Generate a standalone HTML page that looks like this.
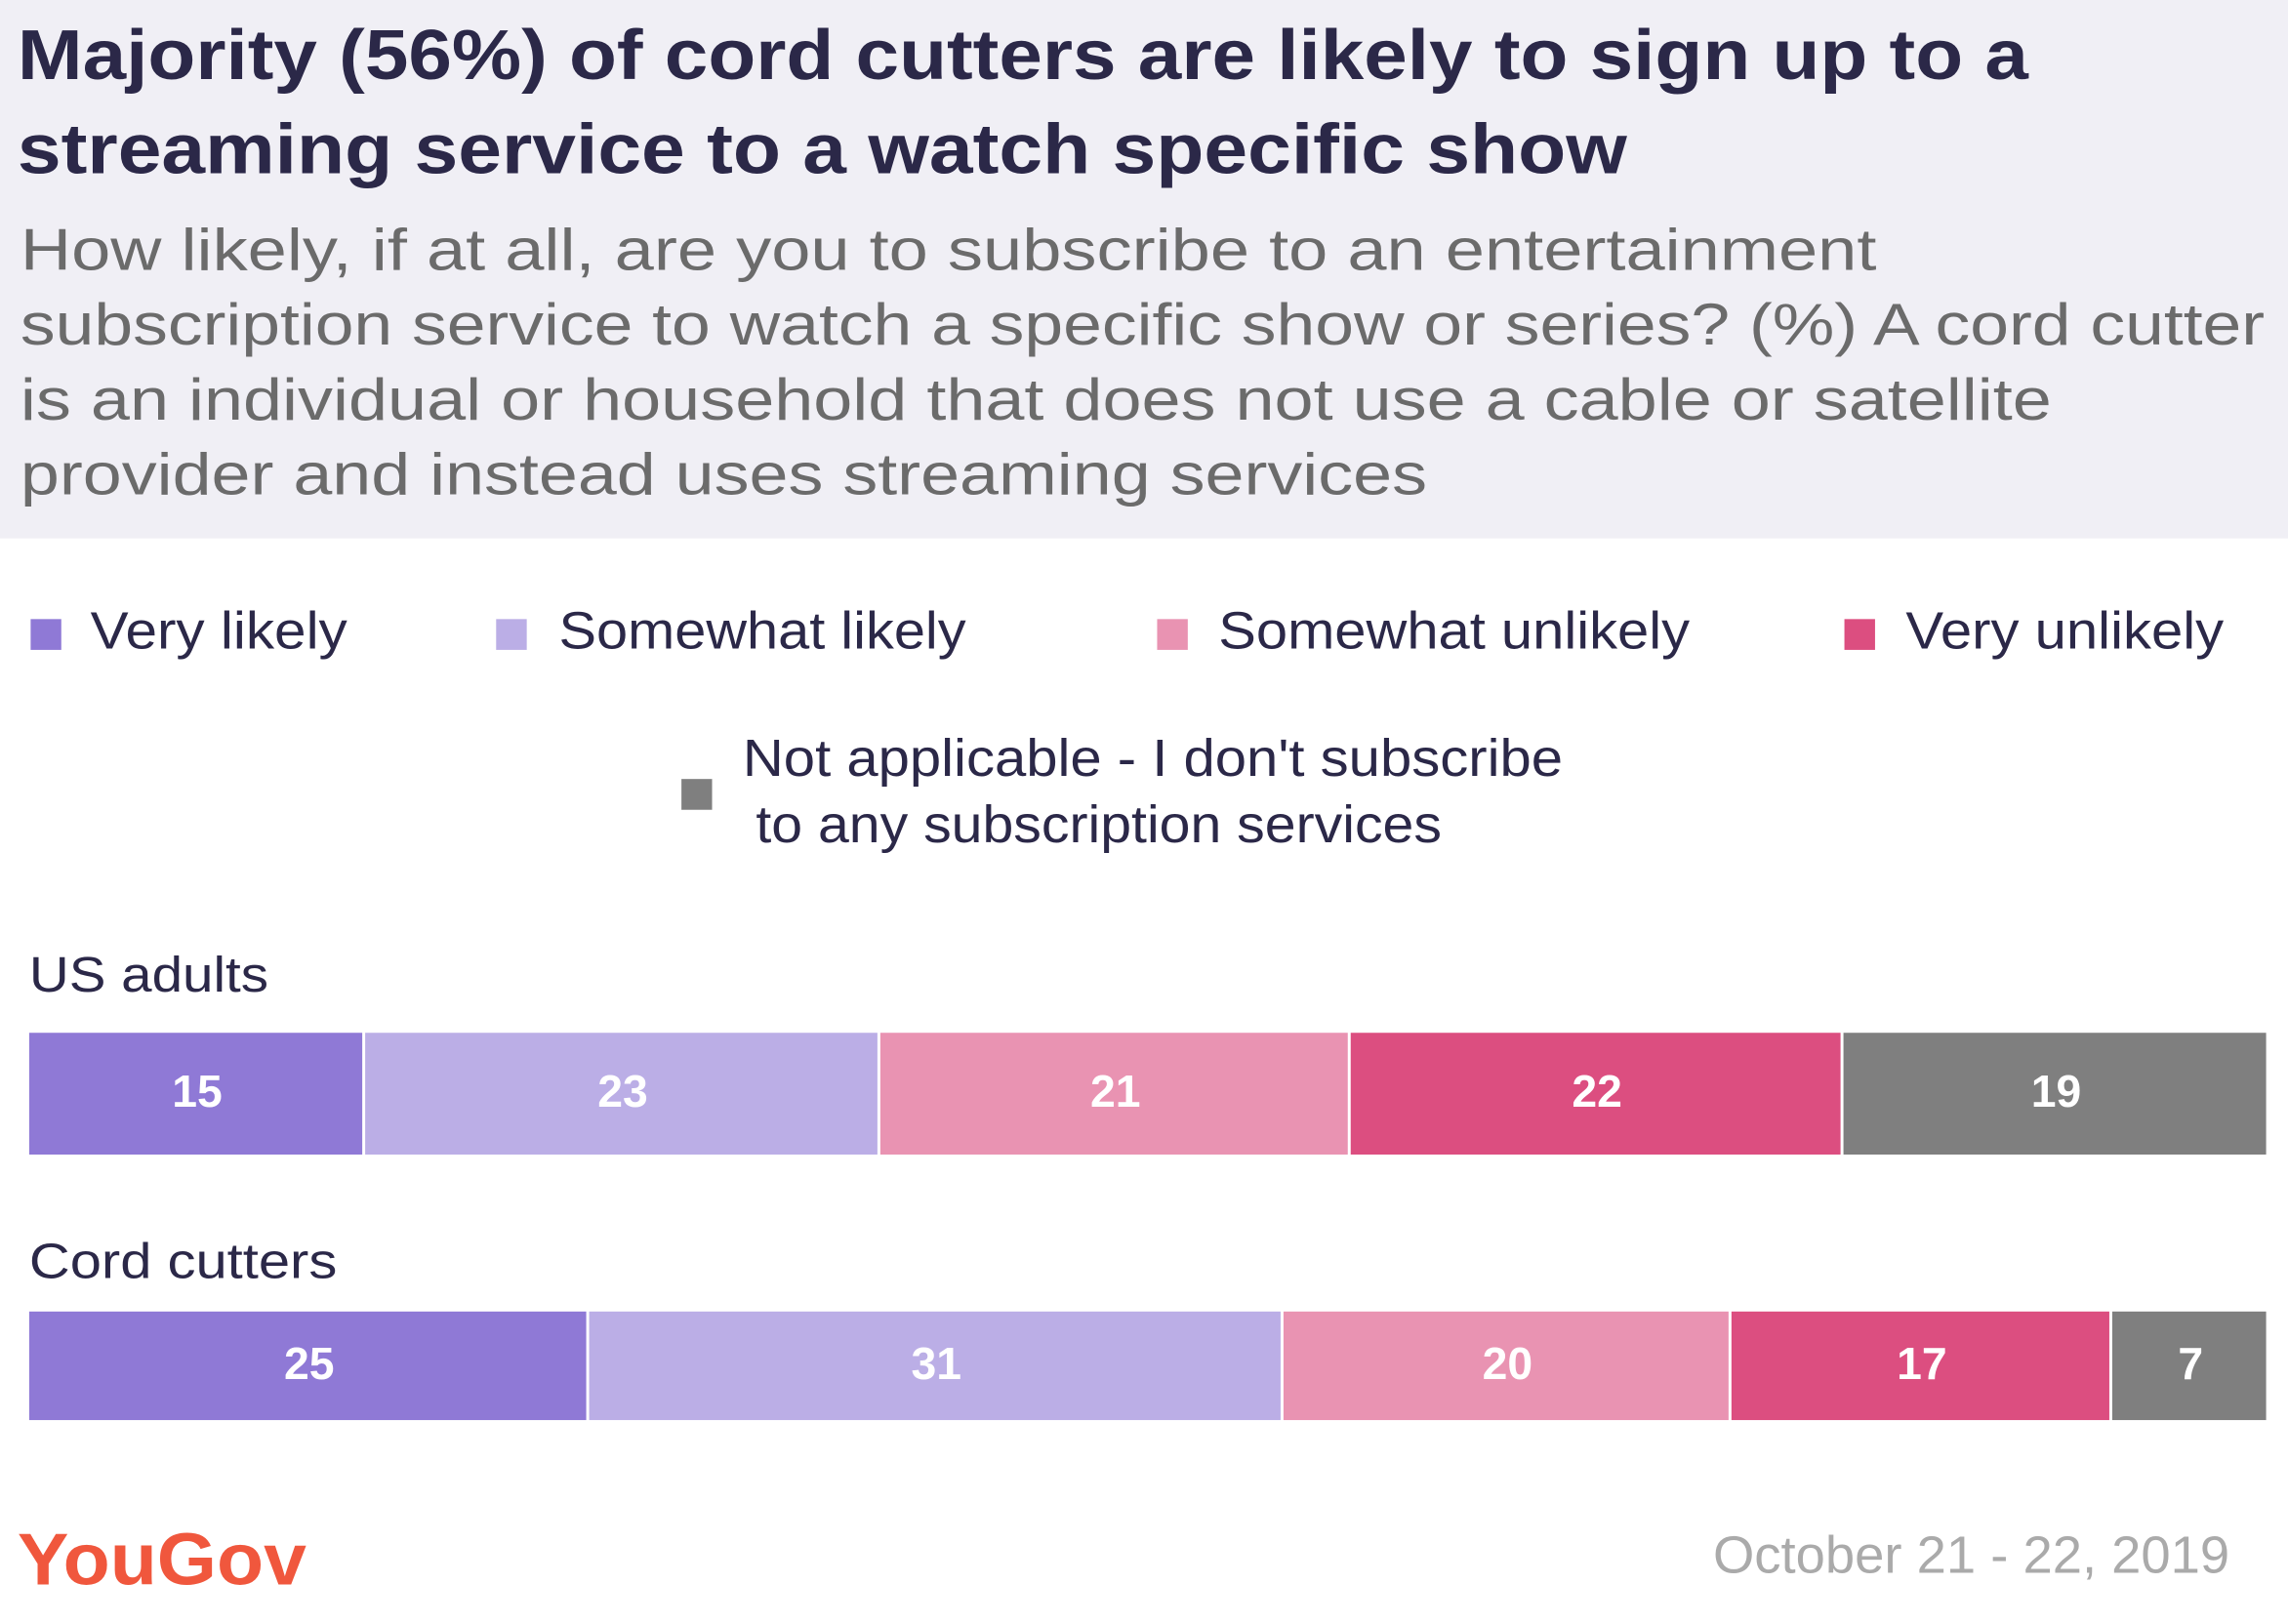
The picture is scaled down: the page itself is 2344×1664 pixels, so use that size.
<!DOCTYPE html>
<html><head><meta charset="utf-8"><style>
html,body{margin:0;padding:0;background:#fff;}
svg{display:block;font-family:"Liberation Sans",sans-serif;}
</style></head><body>
<svg id="chart" width="2344" height="1664" viewBox="0 0 1568 1107" preserveAspectRatio="none" xmlns="http://www.w3.org/2000/svg">
<rect x="0" y="0" width="1568" height="367" fill="#f0eff5"/>
<text fill="#2b2848" font-weight="bold" font-size="48">
<tspan x="12" y="54" textLength="1378" lengthAdjust="spacingAndGlyphs">Majority (56%) of cord cutters are likely to sign up to a</tspan>
<tspan x="12" y="118" textLength="1103" lengthAdjust="spacingAndGlyphs">streaming service to a watch specific show</tspan></text>
<text fill="#6b6b6b" font-size="40">
<tspan x="14" y="184" textLength="1272" lengthAdjust="spacingAndGlyphs">How likely, if at all, are you to subscribe to an entertainment</tspan>
<tspan x="14" y="235" textLength="1538" lengthAdjust="spacingAndGlyphs">subscription service to watch a specific show or series? (%) A cord cutter</tspan>
<tspan x="14" y="286" textLength="1392" lengthAdjust="spacingAndGlyphs">is an individual or household that does not use a cable or satellite</tspan>
<tspan x="14" y="337" textLength="964" lengthAdjust="spacingAndGlyphs">provider and instead uses streaming services</tspan></text>
<g id="legend"></g>
<g id="bars"></g>
<text x="12" y="1080" fill="#f0573d" font-weight="bold" font-size="50" textLength="198" lengthAdjust="spacingAndGlyphs">YouGov</text>
<text x="1528" y="1072" text-anchor="end" fill="#aaaaaa" font-size="36" textLength="354" lengthAdjust="spacingAndGlyphs">October 21 - 22, 2019</text>
</svg>
<script>
const categories = ["US adults", "Cord cutters"];
const seriesNames = ["Very likely", "Somewhat likely", "Somewhat unlikely", "Very unlikely", "Not applicable"];
const veryLikely = [15, 25];
const somewhatLikely = [23, 31];
const somewhatUnlikely = [21, 20];
const veryUnlikely = [22, 17];
const notApplicable = [19, 7];
const colors = ["#8f79d6", "#bbaee6", "#e993b2", "#dc4e80", "#7f7f7f"];
const NS = "http://www.w3.org/2000/svg";
const series = [veryLikely, somewhatLikely, somewhatUnlikely, veryUnlikely, notApplicable];
function mk(tag, attrs, parent){const e=document.createElementNS(NS,tag);for(const k in attrs)e.setAttribute(k,attrs[k]);parent.appendChild(e);return e;}
const X0 = 20, X1 = 1555;
const rows = [{labelY: 676, y: 704, h: 83, lw: 164}, {labelY: 871, y: 894, h: 74, lw: 211}];
const bars = document.getElementById('bars');
categories.forEach((cat, i) => {
  const lbl = mk('text', {x: 20, y: rows[i].labelY, fill: '#2b2848', 'font-size': 34, textLength: rows[i].lw, lengthAdjust: 'spacingAndGlyphs'}, bars);
  
  
  lbl.textContent = cat;
  const total = series.reduce((a, s) => a + s[i], 0);
  let acc = 0;
  series.forEach((s, j) => {
    const x = X0 + (X1 - X0) * acc / total;
    const w = (X1 - X0) * s[i] / total;
    acc += s[i];
    const r = mk('rect', {x: x, y: rows[i].y, width: Math.max(0, w - 2), height: rows[i].h, fill: colors[j]}, bars);
    
    
    const t = mk('text', {x: x + w / 2, y: rows[i].y + rows[i].h / 2 + 9, fill: '#fff', 'font-size': 31, 'font-weight': 'bold', 'text-anchor': 'middle'}, bars);
    
    
    t.textContent = s[i];
  });
});
const legend = document.getElementById('legend');
const legPos = [[21, 62, 432, 176], [340, 383, 432, 279], [793, 835, 432, 323], [1264, 1306, 432, 218]];
legPos.forEach((p, j) => {
  const sq = mk('rect', {x: p[0], y: p[2] - 10, width: 21, height: 21, fill: colors[j]}, legend);
  
  
  const t = mk('text', {x: p[1], y: p[2] + 10, fill: '#2b2848', 'font-size': 36, textLength: p[3], lengthAdjust: 'spacingAndGlyphs'}, legend);
  
  
  t.textContent = seriesNames[j];
});
const sq5 = mk('rect', {x: 467, y: 531, width: 21, height: 21, fill: colors[4]}, legend);


const t5 = mk('text', {fill: '#2b2848', 'font-size': 36}, legend);


const a = mk('tspan', {x: 509, y: 529, textLength: 562, lengthAdjust: 'spacingAndGlyphs'}, t5);
a.textContent = "Not applicable - I don't subscribe";
const b = mk('tspan', {x: 518, y: 574, textLength: 470, lengthAdjust: 'spacingAndGlyphs'}, t5);
b.textContent = "to any subscription services";
</script>
</body></html>
